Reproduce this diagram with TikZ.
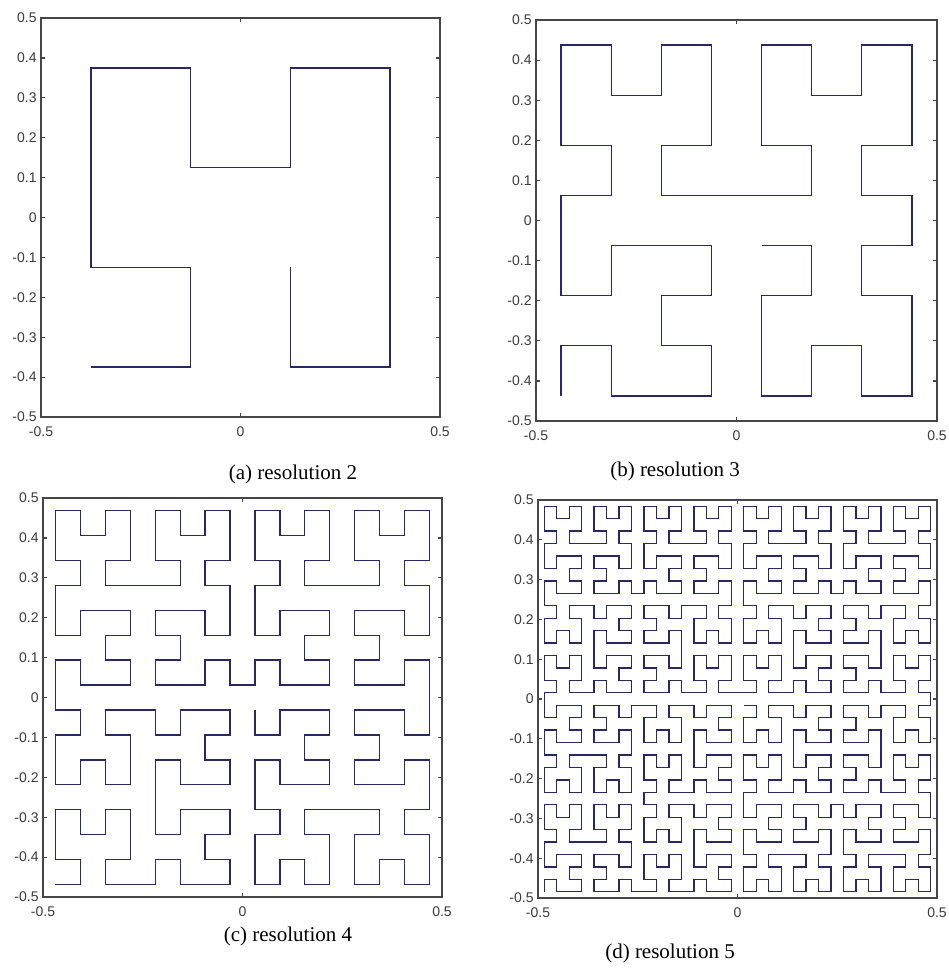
\documentclass[tikz,border=0pt]{standalone}
\usepackage{fontspec}
\setmainfont{Liberation Serif}
\newfontfamily\ticksfont{Liberation Sans}
\definecolor{curvecol}{RGB}{40,40,100}
\definecolor{axiscol}{RGB}{70,70,70}
\definecolor{labelcol}{RGB}{60,60,60}
\tikzset{
  axisbox/.style={draw=axiscol, line width=0.9pt},
  tickmark/.style={draw=axiscol, line width=0.6pt},
  ticklabel/.style={font=\ticksfont\fontsize{7}{8}\selectfont, text=labelcol, inner sep=0pt},
  captext/.style={font=\fontsize{10.5}{12}\selectfont, inner sep=0pt}
}
% ---------- Hilbert-type curve computation ----------
\newcount\hcD \newcount\hcT \newcount\hcX \newcount\hcY \newcount\hcS
\newcount\hcQ \newcount\hcK \newcount\hcE \newcount\hcTmp \newcount\hcM
\newcount\hcMM \newcount\hcTot \newcount\hcPX \newcount\hcPY \newcount\hcN
% standard Hilbert index -> (x,y) on an M x M grid
\def\hcstd{\hcX=0 \hcY=0 \hcT=\hcE \hcS=1 \hcinner}
\def\hcinner{%
  \ifnum\hcS<\hcM
    \hcQ=\hcT \hcTmp=\hcT \divide\hcTmp by 4 \multiply\hcTmp by 4
    \advance\hcQ by -\hcTmp
    \ifcase\hcQ
      \hcTmp=\hcX \hcX=\hcY \hcY=\hcTmp
    \or \advance\hcY by \hcS
    \or \advance\hcX by \hcS \advance\hcY by \hcS
    \or \hcTmp=\hcS \advance\hcTmp by -1 \advance\hcTmp by -\hcX
        \hcX=\hcS \advance\hcX by -1 \advance\hcX by -\hcY
        \hcY=\hcTmp
        \advance\hcX by \hcS
    \fi
    \divide\hcT by 4
    \multiply\hcS by 2
    \expandafter\hcinner
  \fi}
\def\hcouter{%
  \ifnum\hcD<\hcTot
    \hcK=\hcD \divide\hcK by \hcMM
    \hcE=\hcK \multiply\hcE by -\hcMM \advance\hcE by \hcD
    \hcstd
    \ifcase\hcK
      \hcPX=\hcY \hcPY=\hcX
    \or \hcPX=\hcX \hcPY=\hcY \advance\hcPY by \hcM
    \or \hcPX=\hcX \advance\hcPX by \hcM \hcPY=\hcY \advance\hcPY by \hcM
    \or \hcPX=\hcM \multiply\hcPX by 2 \advance\hcPX by -1 \advance\hcPX by -\hcX
        \hcPY=\hcM \advance\hcPY by -1 \advance\hcPY by -\hcY
    \fi
    \pgfmathsetmacro\hcpx{\hcL+(\the\hcPX+0.5)/\the\hcN*(\hcR-\hcL)}%
    \pgfmathsetmacro\hcpy{\hcB-(\the\hcPY+0.5)/\the\hcN*(\hcB-\hcTop)}%
    \ifnum\hcD=0 \pgfpathmoveto{\pgfpointxy{\hcpx}{\hcpy}}%
    \else \pgfpathlineto{\pgfpointxy{\hcpx}{\hcpy}}\fi
    \advance\hcD by 1
    \expandafter\hcouter
  \fi}
% #1 = N (grid side), #2 L, #3 T, #4 R, #5 B (pixel units)
\def\hcurve#1#2#3#4#5{%
  \begin{pgfscope}
  \pgfsetlinewidth{0.65pt}\pgfsetstrokecolor{curvecol}%
  \hcN=#1 \hcM=#1 \divide\hcM by 2
  \hcMM=\hcM \multiply\hcMM by \hcM
  \hcTot=\hcN \multiply\hcTot by \hcN
  \def\hcL{#2}\def\hcTop{#3}\def\hcR{#4}\def\hcB{#5}%
  \hcD=0
  \hcouter
  \pgfusepath{stroke}%
  \end{pgfscope}}
% ---------- axes frame ----------
\newcommand\drawpanel[5]{% L T R B prefix
  \draw[axisbox] (#1,#2) rectangle (#3,#4);
  \foreach \v in {-4,...,4} {
    \draw[tickmark] (#1,{#4-(\v/10+0.5)*(#4-#2)}) -- ++(4,0);
    \draw[tickmark] (#3,{#4-(\v/10+0.5)*(#4-#2)}) -- ++(-4,0);
  }
  \draw[tickmark] ({(#1+#3)/2},#4) -- ++(0,-4);
  \draw[tickmark] ({(#1+#3)/2},#2) -- ++(0,4);
  \foreach \v/\t in {5/0.5,4/0.4,3/0.3,2/0.2,1/0.1,0/0,-1/-0.1,-2/-0.2,-3/-0.3,-4/-0.4,-5/-0.5}
    \node[ticklabel, anchor=east] (#5y\v) at ({#1-4},{#4-(\v/10+0.5)*(#4-#2)}) {\t};
  \node[ticklabel] (#5xl) at (#1,{#4+15}) {-0.5};
  \node[ticklabel] (#5xm) at ({(#1+#3)/2},{#4+15}) {0};
  \node[ticklabel] (#5xr) at (#3,{#4+15}) {0.5};
}
\begin{document}
\begin{tikzpicture}[x=0.5pt,y=-0.5pt]
\useasboundingbox[fill=white] (0,0) rectangle (948,969);
% panel (a)
\hcurve{4}{41}{18}{440}{417}
\drawpanel{41}{18}{440}{417}{a}
\node[captext] (capa) at (293,474) {(a) resolution 2};
% panel (b)
\hcurve{8}{536}{20}{937}{421}
\drawpanel{536}{20}{937}{421}{b}
\node[captext] (capb) at (675,471) {(b) resolution 3};
% panel (c)
\hcurve{16}{43}{498}{442}{897}
\drawpanel{43}{498}{442}{897}{c}
\node[captext] (capc) at (288,936) {(c) resolution 4};
% panel (d)
\hcurve{32}{538}{500}{937}{898}
\drawpanel{538}{500}{937}{898}{d}
\node[captext] (capd) at (670,953) {(d) resolution 5};
\end{tikzpicture}
\end{document}
